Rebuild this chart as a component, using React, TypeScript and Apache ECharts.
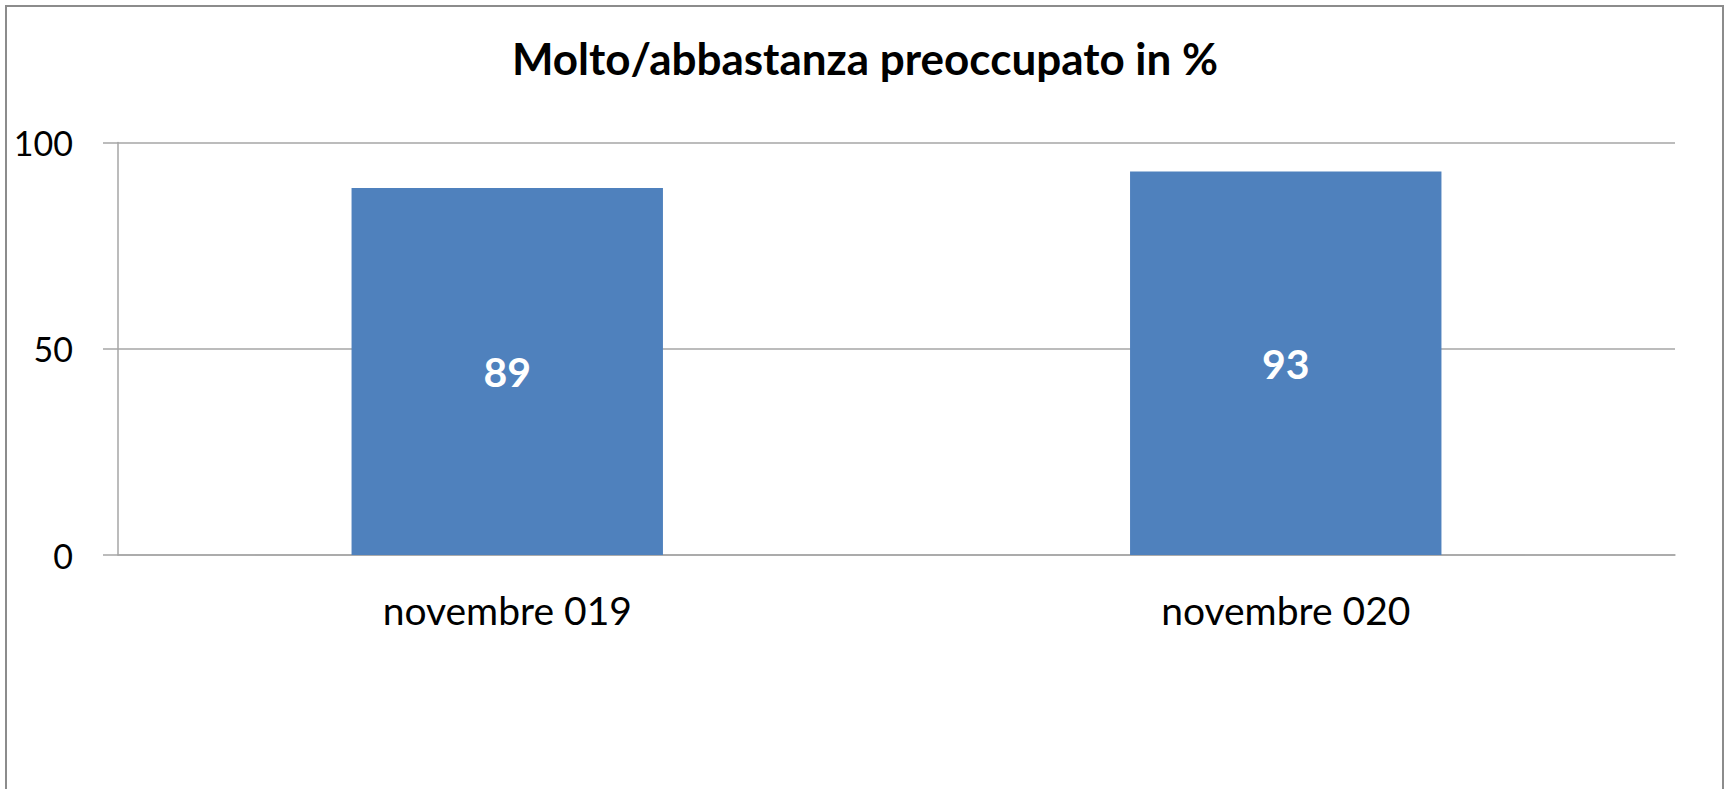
import React, { useEffect, useRef } from "react";
import * as echarts from "echarts";

const titleText = "Molto/abbastanza preoccupato in %";
const categories = ["novembre 019", "novembre 020"];
const values = [89, 93];
const yMin = 0;
const yMax = 100;
const yInterval = 50;

const FONT = "Lato";

export default function App() {
  const ref = useRef<HTMLDivElement>(null);
  useEffect(() => {
    if (!ref.current) return;
    const chart = echarts.init(ref.current, null, { renderer: "svg" });
    chart.setOption({
      animation: false,
      backgroundColor: "#ffffff",
      textStyle: { fontFamily: FONT },
      title: {
        text: titleText,
        left: "center",
        top: 31,
        textStyle: { fontFamily: FONT, fontSize: 44, fontWeight: "bold", color: "#000000" },
      },
      graphic: [
        {
          type: "rect",
          shape: { x: 6, y: 6, width: 1717, height: 900 },
          style: { fill: "none", stroke: "#8c8c8c", lineWidth: 2 },
          silent: true,
        },
      ],
      grid: {
        left: 118,
        right: 55,
        top: 142.5,
        bottom: 234,
        containLabel: false,
        outerBoundsMode: "none",
      },
      xAxis: {
        type: "category",
        data: categories,
        axisLine: { show: true, lineStyle: { color: "#a6a6a6", width: 1.5 } },
        axisTick: { show: false },
        axisLabel: { fontFamily: FONT, fontSize: 39, color: "#000000", margin: 35 },
      },
      yAxis: {
        type: "value",
        min: yMin,
        max: yMax,
        interval: yInterval,
        axisLine: { show: true, lineStyle: { color: "#a6a6a6", width: 1.5 } },
        axisTick: { show: true, length: 15, lineStyle: { color: "#a6a6a6", width: 1.5 } },
        axisLabel: { fontFamily: FONT, fontSize: 34, color: "#000000", margin: 45 },
        splitLine: { show: true, lineStyle: { color: "#a6a6a6", width: 1.5 } },
      },
      series: [
        {
          type: "bar",
          data: values,
          barWidth: "40%",
          itemStyle: { color: "#4f81bd" },
          label: {
            show: true,
            position: "inside",
            fontFamily: FONT,
            fontSize: 41,
            fontWeight: "bold",
            color: "#ffffff",
          },
        },
      ],
    });
    return () => chart.dispose();
  }, []);
  return (
    <div
      ref={ref}
      style={{ position: "fixed", left: 0, top: 0, width: 1730, height: 789 }}
    />
  );
}
